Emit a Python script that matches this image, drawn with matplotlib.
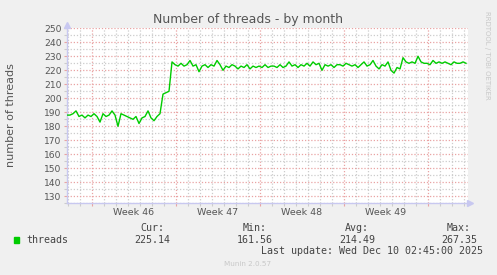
import numpy as np
import matplotlib
matplotlib.use('Agg')
import matplotlib.pyplot as plt
import matplotlib.patches as mpatches

# threads, sampled every 6 hours over the month view
threads = [
    188, 188, 189, 191, 187, 188, 186, 188, 187, 189,
    187, 183, 189, 187, 188, 191, 188, 180, 189, 188,
    187, 186, 185, 187, 182, 186, 187, 191, 186, 184,
    187, 189, 203, 204, 205, 226, 224, 223, 225, 223,
    224, 227, 223, 224, 219, 223, 224, 222, 224, 223,
    227, 224, 220, 223, 222, 224, 223, 221, 223, 222,
    224, 221, 223, 222, 223, 222, 224, 222, 223, 223,
    222, 224, 222, 223, 226, 223, 224, 222, 224, 223,
    225, 223, 226, 224, 225, 220, 224, 223, 224, 222,
    224, 224, 223, 225, 224, 223, 224, 222, 224, 226,
    223, 224, 227, 223, 221, 224, 223, 226, 220, 218,
    222, 221, 229, 226, 225, 226, 225, 230, 226, 225,
    225, 224, 227, 225, 226, 225, 226, 225, 224, 226,
    225, 225, 226, 225,
]
step_days = 0.25
days = np.arange(len(threads)) * step_days

week_labels = ['Week 46', 'Week 47', 'Week 48', 'Week 49']
week_starts = [2.083, 9.083, 16.083, 23.083, 30.083]

stat_names = ['Cur:', 'Min:', 'Avg:', 'Max:']
stat_values = ['225.14', '161.56', '214.49', '267.35']

BG = '#f0f0f0'
MAJOR = '#e9a3a3'
MINOR = '#cccccc'
AXIS = '#c8c8f0'
TXT = '#555555'

fig = plt.figure(figsize=(4.97, 2.75), dpi=100, facecolor=BG)
ax = fig.add_axes([67 / 497, 71.7 / 275, 400.7 / 497, 175 / 275])
ax.set_facecolor('white')

ax.set_xlim(0, 33.39)
ax.set_ylim(125, 250)

# grid
ax.set_yticks(np.arange(130, 251, 10))
ax.set_yticks([v for v in np.arange(125, 250, 5) if v % 10], minor=True)
ax.set_xticks(week_starts)
ax.set_xticks([d + 0.083 for d in range(0, 34) if (d - 2) % 7], minor=True)
ax.grid(which='minor', color=MINOR, linestyle=(0, (1, 1.5)), linewidth=0.9)
ax.grid(which='major', color=MAJOR, linestyle=(0, (1, 1.5)), linewidth=0.9)
ax.set_axisbelow(True)
ax.tick_params(axis='both', which='major', length=2, color=MAJOR, width=0.8)
ax.tick_params(axis='both', which='minor', length=2, color=MINOR, width=0.8)
ax.tick_params(axis='x', labelbottom=False)
ax.tick_params(axis='y', labelsize=6.6, labelcolor=TXT, pad=2)

for s in ['top', 'right']:
    ax.spines[s].set_visible(False)
for s in ['left', 'bottom']:
    ax.spines[s].set_color(AXIS)
    ax.spines[s].set_linewidth(1)

# axis arrows
ax.plot([0], [1.02], marker='^', markersize=4, color=AXIS, transform=ax.transAxes, clip_on=False)
ax.plot([1.006], [0], marker='>', markersize=4, color=AXIS, transform=ax.transAxes, clip_on=False)

for i, lab in enumerate(week_labels):
    mid = (week_starts[i] + week_starts[i + 1]) / 2
    ax.text(mid, -0.05, lab, transform=ax.get_xaxis_transform(), ha='center', va='center',
            fontsize=6.8, color=TXT)

ax.plot(days, threads, color='#00cc00', linewidth=1.0, zorder=3)

fig.text(248 / 497, 1 - 19 / 275, 'Number of threads - by month', ha='center', va='center',
         fontsize=9, color=TXT)
fig.text(11 / 497, 1 - 115 / 275, 'number of threads', rotation=90, ha='center', va='center',
         fontsize=8, color=TXT)
fig.text(487 / 497, 1 - 55 / 275, 'RRDTOOL / TOBI OETIKER', rotation=270, ha='center', va='center',
         fontsize=5, color='#c8c8c8')

# legend
fig.patches.append(mpatches.Rectangle((14 / 497, 1 - 243 / 275), 5 / 497, 6 / 275,
                                      transform=fig.transFigure, color='#00cc00'))
mono = 'DejaVu Sans Mono'
fig.text(26 / 497, 1 - 240 / 275, 'threads', ha='left', va='center', fontsize=7.2,
         family=mono, color='#444444')
for cx, name, val in zip([152, 255, 357, 459], stat_names, stat_values):
    fig.text(cx / 497, 1 - 228 / 275, name, ha='center', va='center', fontsize=7.2,
             family=mono, color='#444444')
    fig.text(cx / 497, 1 - 240 / 275, val, ha='center', va='center', fontsize=7.2,
             family=mono, color='#444444')
fig.text(483 / 497, 1 - 251 / 275, 'Last update: Wed Dec 10 02:45:00 2025', ha='right', va='center',
         fontsize=7.2, family=mono, color='#444444')
fig.text(248 / 497, 1 - 264 / 275, 'Munin 2.0.57', ha='center', va='center', fontsize=5.2,
         color='#c8c8c8')

fig.savefig('out.png', dpi=100, facecolor=BG)
